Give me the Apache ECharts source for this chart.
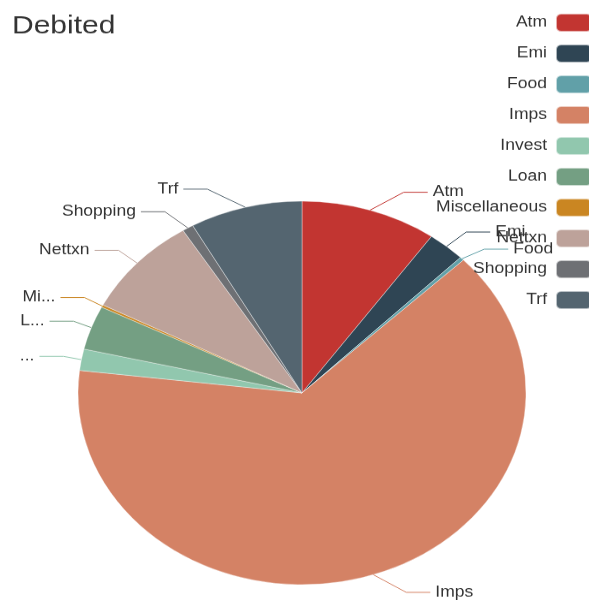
<!DOCTYPE html>
<html>
<head>
<meta charset="utf-8">
<script src="https://cdn.jsdelivr.net/npm/echarts@6/dist/echarts.min.js"></script>
<style>
  html, body { margin: 0; padding: 0; background: #fff; overflow: hidden; }
  #wrap { width: 589px; height: 601px; overflow: hidden; }
  /* chart is drawn taller and squeezed vertically, giving the oval pie */
  #chart { width: 589px; height: 702px; transform: scaleY(0.856); transform-origin: 0 0; }
</style>
</head>
<body>
<div id="wrap"><div id="chart"></div></div>
<script>
const categories = ['Atm', 'Emi', 'Food', 'Imps', 'Invest', 'Loan', 'Miscellaneous', 'Nettxn', 'Shopping', 'Trf'];
const debitedValues = [98, 27, 3, 640, 18, 37, 2, 85, 8, 81];
const palette = ['#c23531', '#2f4554', '#61a0a8', '#d48265', '#91c7ae', '#749f83', '#ca8622', '#bda29a', '#6e7074', '#546570'];

const fontFamily = '"Liberation Sans", Arial, sans-serif';

// pie geometry (chart pixels, before the vertical squeeze)
const pieCenter = [302, 459];
const pieRadius = 224;
const lineLen2 = 24;          // horizontal part of a label line
const labelRing = 266;        // label lines end on this ring
const labelGap = 5;           // space between line end and text

// Put every outside label on a ring around the pie, the classic layout
function ringLabelLayout(params) {
  const pts = params.labelLinePoints;
  if (!pts) return {};
  const rect = params.labelRect;
  const y = rect.y + rect.height / 2;
  const dir = pts[2][0] < pieCenter[0] ? -1 : 1;
  const dy = y - pieCenter[1];
  const dx = Math.sqrt(Math.max(labelRing * labelRing - dy * dy, 0));
  const endX = pieCenter[0] + dir * dx;
  return {
    x: endX + dir * labelGap,
    y: y,
    labelLinePoints: [pts[0], [endX - dir * lineLen2, y], [endX, y]]
  };
}

const chart = echarts.init(document.getElementById('chart'));

chart.setOption({
  color: palette,
  animation: false,
  title: {
    text: 'Debited',
    left: 7,
    top: 11,
    textStyle: { fontSize: 30, fontWeight: 'normal', color: '#333', fontFamily: fontFamily }
  },
  legend: {
    orient: 'vertical',
    right: -9,
    top: 10,
    align: 'right',
    icon: 'roundRect',
    itemWidth: 36,
    itemHeight: 21,
    itemGap: 13,
    data: categories,
    textStyle: { fontSize: 17.5, color: '#333', fontFamily: fontFamily, padding: [0, 4, 0, 0] }
  },
  series: [{
    type: 'pie',
    center: pieCenter,
    radius: pieRadius,
    startAngle: 90,
    clockwise: true,
    itemStyle: { borderColor: 'rgba(255,255,255,0.6)', borderWidth: 0.6 },
    label: { fontSize: 17.5, fontFamily: fontFamily, bleedMargin: 16 },
    labelLine: { length: 22, length2: 22 },
    labelLayout: ringLabelLayout,
    data: categories.map((name, i) => ({ name: name, value: debitedValues[i] }))
  }]
});
</script>
</body>
</html>
